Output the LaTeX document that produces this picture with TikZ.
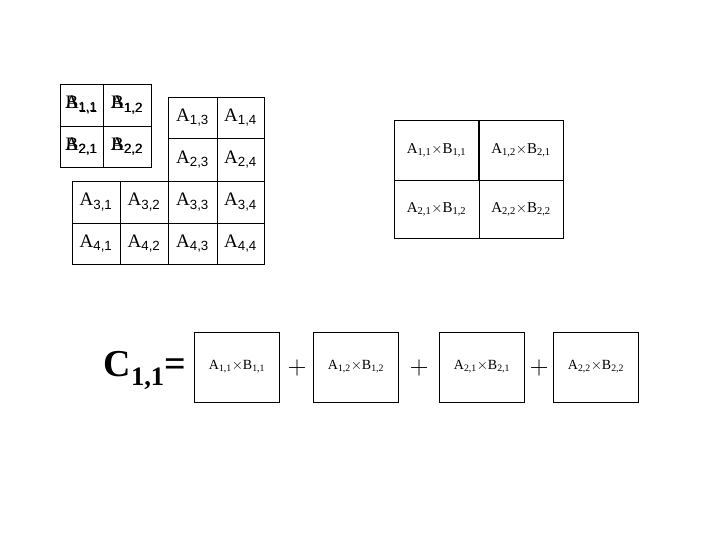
\documentclass[tikz,border=0pt]{standalone}
\usepackage{fontspec}
\setmainfont{Liberation Serif}
\newfontfamily\subf{Liberation Sans}
\newcommand{\Mx}[3]{#1\textsubscript{\subf #2,#3}}
\newcommand{\Prd}[4]{A\textsubscript{#1,#2}$\times$B\textsubscript{#3,#4}}
\begin{document}
\begin{tikzpicture}[x=1pt,y=-1pt,
  cell/.style={draw,line width=0.7pt,fill=white},
  big/.style={font=\fontsize{19}{21}\selectfont},
  mid/.style={font=\fontsize{15}{17}\selectfont},
  sml/.style={font=\fontsize{14}{16}\selectfont}]
\useasboundingbox[fill=white] (0,0) rectangle (720,540);
% A grid
\foreach \r/\yt/\yb in {1/97/138,2/138/181}{
  \foreach \c/\xl/\xr in {3/168/217,4/217/264}{
    \draw[cell] (\xl,\yt) rectangle (\xr,\yb);
    \node[big] (a\r\c) at ({(\xl+\xr)/2},{(\yt+\yb)/2}) {\Mx{A}{\r}{\c}};
  }}
\foreach \r/\yt/\yb in {3/181/223,4/223/264}{
  \foreach \c/\xl/\xr in {1/72/120,2/120/168,3/168/217,4/217/264}{
    \draw[cell] (\xl,\yt) rectangle (\xr,\yb);
    \node[big] (a\r\c) at ({(\xl+\xr)/2},{(\yt+\yb)/2}) {\Mx{A}{\r}{\c}};
  }}
% B grid overlapping A
\foreach \r/\yt/\yb in {1/84/126,2/126/167}{
  \foreach \c/\xl/\xr in {1/60/103,2/103/151}{
    \draw[cell] (\xl,\yt) rectangle (\xr,\yb);
    \node[big] (ax\r\c) at ({(\xl+\xr)/2},{(\yt+\yb)/2}) {\Mx{A}{\r}{\c}};
    \node[big] (b\r\c) at ({(\xl+\xr)/2},{(\yt+\yb)/2}) {\Mx{B}{\r}{\c}};
  }}
% product grid
\foreach \r/\yt/\yb in {1/120/180,2/180/238}{
  \foreach \c/\xl/\xr in {1/394/479,2/479/563}{
    \draw[cell] (\xl,\yt) rectangle (\xr,\yb);
    \node[mid] (p\r\c) at ({(\xl+\xr)/2},{(\yt+\yb)/2}) {\Prd{\r}{\c}{\c}{\r}};
  }}
\draw[line width=1.5pt] (479,120) -- (479,180);
% bottom
\node[font=\fontsize{38}{40}\selectfont\bfseries] (c) at (145,370) {C\textsubscript{1,1}=};
\node[draw,line width=0.7pt,minimum width=85pt,minimum height=70pt,sml] (t1) at (237,367) {\Prd{1}{1}{1}{1}};
\node[draw,line width=0.7pt,minimum width=85pt,minimum height=70pt,sml] (t2) at (356,367) {\Prd{1}{2}{1}{2}};
\node[draw,line width=0.7pt,minimum width=85pt,minimum height=70pt,sml] (t3) at (482,367) {\Prd{2}{1}{2}{1}};
\node[draw,line width=0.7pt,minimum width=85pt,minimum height=70pt,sml] (t4) at (596,367) {\Prd{2}{2}{2}{2}};
\node[font=\fontsize{26}{28}\selectfont\sffamily] (pl1) at (297,368) {+};
\node[font=\fontsize{26}{28}\selectfont\sffamily] (pl2) at (419,368) {+};
\node[font=\fontsize{26}{28}\selectfont\sffamily] (pl3) at (539,368) {+};
\end{tikzpicture}
\end{document}
